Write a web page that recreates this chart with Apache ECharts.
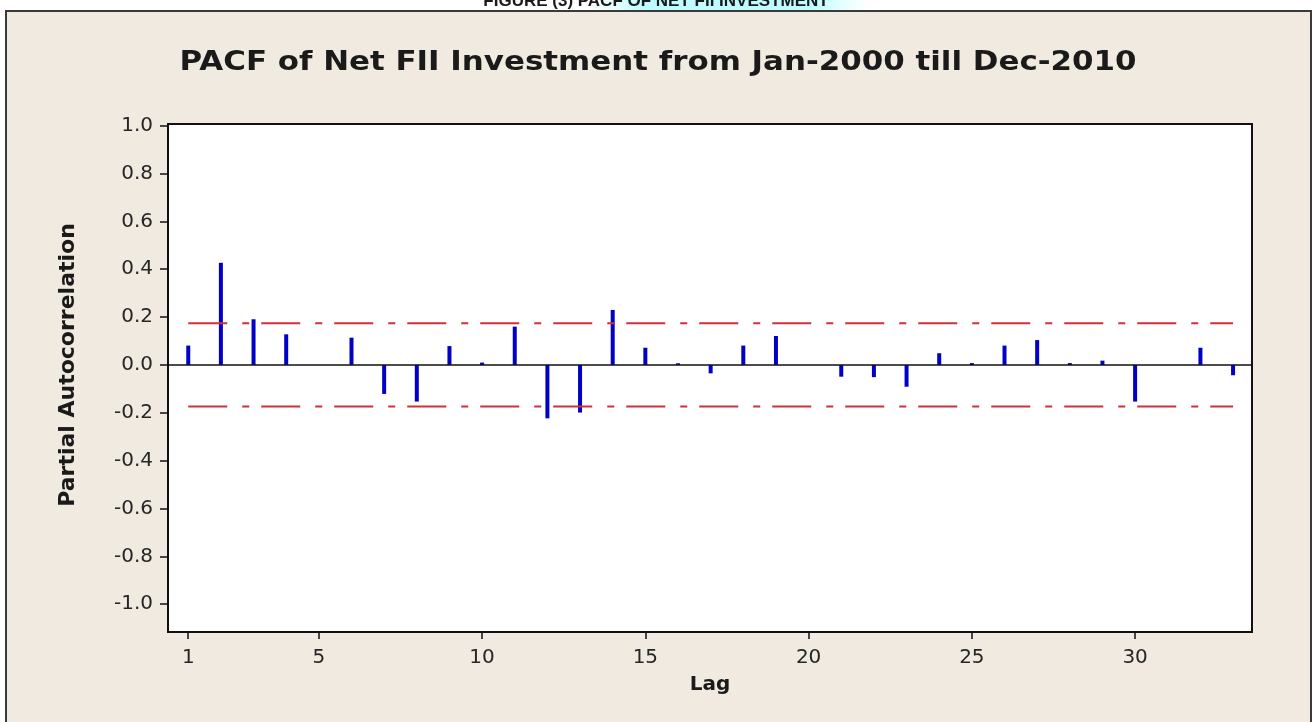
<!DOCTYPE html>
<html>
<head>
<meta charset="utf-8">
<script src="https://cdn.jsdelivr.net/npm/echarts@6/dist/echarts.min.js"></script>
<style>
  html, body { margin: 0; padding: 0; background: #ffffff; }
  #chart { width: 1315px; height: 722px; }
</style>
</head>
<body>
<div id="chart"></div>
<script>
// Partial autocorrelation of monthly net FII investment, lags 1..33
const lags = [1, 2, 3, 4, 5, 6, 7, 8, 9, 10, 11, 12, 13, 14, 15, 16, 17,
              18, 19, 20, 21, 22, 23, 24, 25, 26, 27, 28, 29, 30, 31, 32, 33];
const pacf = [0.081, 0.427, 0.191, 0.128, 0.0, 0.114, -0.121, -0.153, 0.079, 0.010,
              0.160, -0.223, -0.199, 0.230, 0.072, 0.007, -0.035, 0.081, 0.121, 0.0,
              -0.049, -0.051, -0.091, 0.049, 0.008, 0.081, 0.104, 0.008, 0.018, -0.153,
              0.0, 0.072, -0.043];
// 5% significance limits, 2/sqrt(132)
const limit = 0.174;
const xTicks = [1, 5, 10, 15, 20, 25, 30];
const yTicks = [-1.0, -0.8, -0.6, -0.4, -0.2, 0.0, 0.2, 0.4, 0.6, 0.8, 1.0];
const chartTitle = 'PACF of Net FII Investment from Jan-2000 till Dec-2010';
const caption = 'FIGURE (3) PACF OF NET FII INVESTMENT';
const xName = 'Lag';
const yName = 'Partial Autocorrelation';

const barPoints = lags.map((l, i) => [l, pacf[i]]);
const firstLag = lags[0], lastLag = lags[lags.length - 1];

// widen the title text to the span it occupies above the plot
const titleFont = 'bold 26px "DejaVu Sans"';
const titleSpan = 957;
const measureCtx = document.createElement('canvas').getContext('2d');
measureCtx.font = titleFont;
const titleScale = titleSpan / measureCtx.measureText(chartTitle).width;

const chart = echarts.init(document.getElementById('chart'), null, { renderer: 'canvas' });

const tickLabelStyle = {
  fontFamily: 'DejaVu Sans',
  fontSize: 20,
  color: '#262626'
};
const limitStyle = { color: '#d22f38', width: 2, type: [39, 15, 7, 12] };

chart.setOption({
  backgroundColor: '#ffffff',
  animation: false,
  graphic: [
    {
      type: 'rect', z: -10,
      shape: { x: 6, y: 11, width: 1305, height: 720 },
      style: { fill: '#f0eae1', stroke: '#3a3a3a', lineWidth: 2 }
    },
    {
      type: 'rect', z: -9,
      shape: { x: 588, y: 0, width: 280, height: 10 },
      style: {
        fill: new echarts.graphic.LinearGradient(0, 0, 1, 0, [
          { offset: 0, color: 'rgba(200,255,255,0)' },
          { offset: 0.2, color: 'rgba(190,252,255,1)' },
          { offset: 0.8, color: 'rgba(190,252,255,1)' },
          { offset: 1, color: 'rgba(200,255,255,0)' }
        ])
      }
    },
    {
      type: 'text', z: -8,
      x: 656, y: 10,
      style: {
        text: caption,
        align: 'center',
        verticalAlign: 'bottom',
        font: 'bold 17px "Liberation Sans"',
        fill: '#1a1a1a'
      }
    },
    {
      type: 'text', z: 10,
      x: 658, y: 63,
      scaleX: titleScale,
      style: {
        text: chartTitle,
        align: 'center',
        verticalAlign: 'middle',
        font: titleFont,
        fill: '#1a1a1a'
      }
    },
    {
      type: 'text', z: 10,
      x: 68, y: 365,
      rotation: Math.PI / 2,
      style: {
        text: yName,
        align: 'center',
        verticalAlign: 'middle',
        font: 'bold 22px "DejaVu Sans"',
        fill: '#1a1a1a'
      }
    }
  ],
  grid: {
    left: 168,
    top: 124,
    width: 1084,
    height: 508,
    show: true,
    backgroundColor: '#ffffff',
    borderColor: '#111111',
    borderWidth: 2
  },
  xAxis: {
    type: 'value',
    min: 0.38,
    max: 33.58,
    name: xName,
    nameLocation: 'middle',
    nameGap: 43,
    nameTextStyle: {
      fontFamily: 'DejaVu Sans',
      fontWeight: 'bold',
      fontSize: 20,
      color: '#1a1a1a'
    },
    axisLine: { show: true, onZero: false, lineStyle: { color: '#111111', width: 2 } },
    axisTick: {
      show: true, inside: false, length: 7,
      customValues: xTicks,
      lineStyle: { color: '#111111', width: 1.5 }
    },
    axisLabel: Object.assign({ customValues: xTicks, margin: 16,
      formatter: v => String(v) }, tickLabelStyle),
    splitLine: { show: false }
  },
  yAxis: {
    type: 'value',
    min: -1.116,
    max: 1.007,
    axisLine: { show: true, onZero: false, lineStyle: { color: '#111111', width: 2 } },
    axisTick: {
      show: true, inside: false, length: 8,
      customValues: yTicks,
      lineStyle: { color: '#111111', width: 1.5 }
    },
    axisLabel: Object.assign({ customValues: yTicks, margin: 15,
      formatter: v => v.toFixed(1) }, tickLabelStyle),
    splitLine: { show: false }
  },
  series: [
    {
      // PACF spikes drawn as thin columns from zero
      type: 'custom',
      z: 3,
      data: barPoints,
      renderItem: function (params, api) {
        const x = api.value(0), y = api.value(1);
        const p0 = api.coord([x, 0]);
        const p1 = api.coord([x, y]);
        return {
          type: 'rect',
          shape: {
            x: p0[0] - 2,
            y: Math.min(p0[1], p1[1]),
            width: 4,
            height: Math.abs(p1[1] - p0[1])
          },
          style: { fill: '#0000c8' }
        };
      },
      markLine: {
        silent: true,
        symbol: 'none',
        label: { show: false },
        lineStyle: { color: '#111111', width: 1.5, type: 'solid' },
        data: [{ yAxis: 0 }]
      }
    },
    {
      type: 'line',
      z: 4,
      symbol: 'none',
      silent: true,
      data: [[firstLag, limit], [lastLag, limit]],
      lineStyle: limitStyle
    },
    {
      type: 'line',
      z: 4,
      symbol: 'none',
      silent: true,
      data: [[firstLag, -limit], [lastLag, -limit]],
      lineStyle: limitStyle
    }
  ]
});
</script>
</body>
</html>
